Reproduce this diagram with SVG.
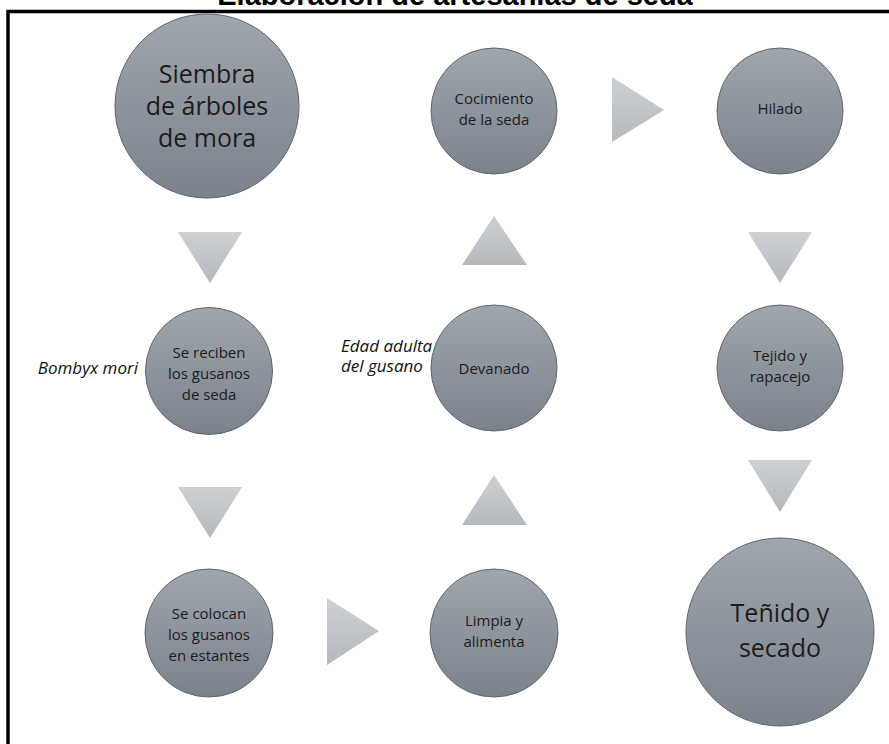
<svg xmlns="http://www.w3.org/2000/svg" width="889" height="744" viewBox="0 0 889 744">
<defs>
<linearGradient id="cg" x1="0" y1="0" x2="0" y2="1">
<stop offset="0" stop-color="#a0a6ad"/>
<stop offset="1" stop-color="#7b828c"/>
</linearGradient>
<linearGradient id="tg" x1="0" y1="0" x2="0" y2="1">
<stop offset="0" stop-color="#cdd0d3"/>
<stop offset="1" stop-color="#b5b9bd"/>
</linearGradient>
</defs>
<style>
.c{fill:url(#cg);stroke:#5f656d;stroke-width:1}
.t{fill:url(#tg);stroke:none}
.s{font-family:"Open Sans","Noto Sans",sans-serif;font-size:15px;fill:#1c1c1c;text-anchor:middle}
.b{font-family:"Open Sans","Noto Sans",sans-serif;font-size:25px;fill:#1c1c1c;text-anchor:middle}
.i{font-family:"Open Sans","Noto Sans",sans-serif;font-size:17px;font-style:italic;fill:#111}
.title{font-family:"Liberation Sans",Arial,sans-serif;font-size:29px;font-weight:bold;fill:#000;text-anchor:middle}
</style>
<rect width="889" height="744" fill="#fff"/>
<text class="title" x="455" y="5">Elaboración de artesanías de seda</text>
<rect x="8" y="11.5" width="900" height="760" fill="none" stroke="#000" stroke-width="3.5"/>
<g id="connectors">
<polygon class="t" points="178,232 242,232 210,283"/>
<polygon class="t" points="178,487 242,487 210,538"/>
<polygon class="t" points="327,598 327,665 379,631"/>
<polygon class="t" points="462,525 527,525 494,475"/>
<polygon class="t" points="462,265 527,265 494,216"/>
<polygon class="t" points="612,77 612,142 664,110"/>
<polygon class="t" points="748,232 812,232 780,283"/>
<polygon class="t" points="748,460 812,460 780,512"/>
</g>
<g id="n1"><circle class="c" cx="207" cy="106" r="92"/>
<text class="b" x="207" y="83">Siembra</text><text class="b" x="207" y="115">de árboles</text><text class="b" x="207" y="147">de mora</text></g>
<g id="n2"><circle class="c" cx="209" cy="371" r="63.5"/>
<text class="s" x="209" y="358">Se reciben</text><text class="s" x="209" y="379">los gusanos</text><text class="s" x="209" y="400">de seda</text></g>
<g id="note1"><text class="i" x="138" y="374" text-anchor="end">Bombyx mori</text></g>
<g id="n3"><circle class="c" cx="209" cy="633" r="64"/>
<text class="s" x="209" y="619">Se colocan</text><text class="s" x="209" y="640">los gusanos</text><text class="s" x="209" y="661">en estantes</text></g>
<g id="n4"><circle class="c" cx="494" cy="633" r="64"/>
<text class="s" x="494" y="626">Limpia y</text><text class="s" x="494" y="647">alimenta</text></g>
<g id="n5"><circle class="c" cx="494" cy="368" r="63"/>
<text class="s" x="494" y="374">Devanado</text></g>
<g id="note2"><text class="i" x="341" y="352">Edad adulta</text><text class="i" x="341" y="372">del gusano</text></g>
<g id="n6"><circle class="c" cx="494" cy="111" r="63"/>
<text class="s" x="494" y="104">Cocimiento</text><text class="s" x="494" y="125">de la seda</text></g>
<g id="n7"><circle class="c" cx="780" cy="111" r="63"/>
<text class="s" x="780" y="114">Hilado</text></g>
<g id="n8"><circle class="c" cx="780" cy="368" r="63"/>
<text class="s" x="780" y="361">Tejido y</text><text class="s" x="780" y="382">rapacejo</text></g>
<g id="n9"><circle class="c" cx="780" cy="632" r="94"/>
<text class="b" x="780" y="622">Teñido y</text><text class="b" x="780" y="657">secado</text></g>
</svg>
